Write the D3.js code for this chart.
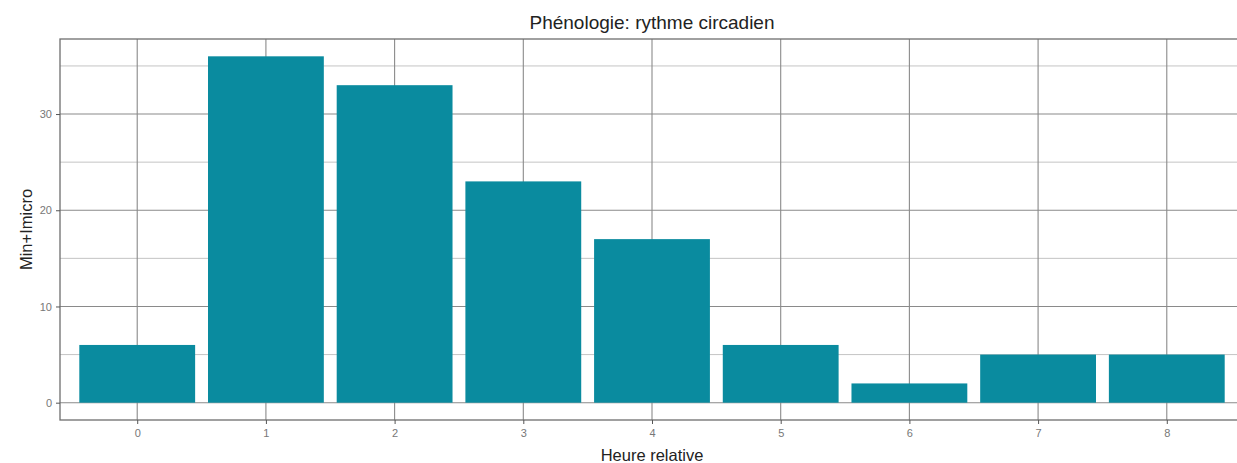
<!DOCTYPE html>
<html><head><meta charset="utf-8">
<script src="https://cdn.jsdelivr.net/npm/d3@7"></script>
<style>body{margin:0;background:#fff}svg{display:block}text{font-family:"Liberation Sans",Arial,sans-serif}</style>
</head><body>
<svg id="c" width="1237" height="463"></svg>
<script>
const categories = ["0","1","2","3","4","5","6","7","8"];
const values = [6, 36, 33, 23, 17, 6, 2, 5, 5];
const yTicks = [0, 10, 20, 30];
const yMinor = [5, 15, 25, 35];
const title = "Phénologie: rythme circadien";
const xTitle = "Heure relative";
const yTitle = "Min+Imicro";

const svg = d3.select("#c");
const L = 60, R = 1244, T = 39, B = 420;
const n = categories.length;
const x = d3.scaleLinear().domain([-0.6, n - 1 + 0.6]).range([L, R]);
const ymax = d3.max(values);
const y = d3.scaleLinear().domain([-ymax * 0.05, ymax * 1.05]).range([B, T]);
const bw = 0.9;
const g = svg.append("g");
g.selectAll(".ymin").data(yMinor).join("line")
  .attr("x1", L).attr("x2", R).attr("y1", d => y(d)).attr("y2", d => y(d))
  .attr("stroke", "#bdbdbd").attr("stroke-width", 0.9);
g.selectAll(".ymaj").data(yTicks).join("line")
  .attr("x1", L).attr("x2", R).attr("y1", d => y(d)).attr("y2", d => y(d))
  .attr("stroke", "#8a8a8a").attr("stroke-width", 1.1);
g.selectAll(".xmaj").data(categories).join("line")
  .attr("x1", (d, i) => x(i)).attr("x2", (d, i) => x(i)).attr("y1", T).attr("y2", B)
  .attr("stroke", "#8a8a8a").attr("stroke-width", 1.1);
g.selectAll(".bar").data(values).join("rect")
  .attr("x", (d, i) => x(i - bw / 2)).attr("width", x(bw) - x(0))
  .attr("y", d => y(d)).attr("height", d => y(0) - y(d))
  .attr("fill", "#0a8b9f");
g.append("rect").attr("x", L).attr("y", T).attr("width", R - L).attr("height", B - T)
  .attr("fill", "none").attr("stroke", "#6e6e6e").attr("stroke-width", 1.3);
const xa = svg.append("g").attr("transform", `translate(0,${B})`)
  .call(d3.axisBottom(x).tickValues(d3.range(n)).tickFormat(i => categories[i]).tickSize(4).tickPadding(5));
const ya = svg.append("g").attr("transform", `translate(${L},0)`)
  .call(d3.axisLeft(y).tickValues(yTicks).tickSize(4).tickPadding(4));
[xa, ya].forEach(a => {
  a.select(".domain").remove();
  a.selectAll(".tick line").attr("stroke", "#555");
  a.selectAll(".tick text").attr("fill", "#777").style("font-size", "11px");
});
svg.append("text").attr("x", (L + R) / 2).attr("y", 29).attr("text-anchor", "middle")
  .style("font-size", "19px").attr("fill", "#222").text(title);
svg.append("text").attr("x", (L + R) / 2).attr("y", 461).attr("text-anchor", "middle")
  .style("font-size", "16.5px").attr("fill", "#222").text(xTitle);
svg.append("text").attr("transform", `translate(32,${(T + B) / 2}) rotate(-90)`).attr("text-anchor", "middle")
  .style("font-size", "16.5px").attr("fill", "#222").text(yTitle);
</script>
</body></html>
